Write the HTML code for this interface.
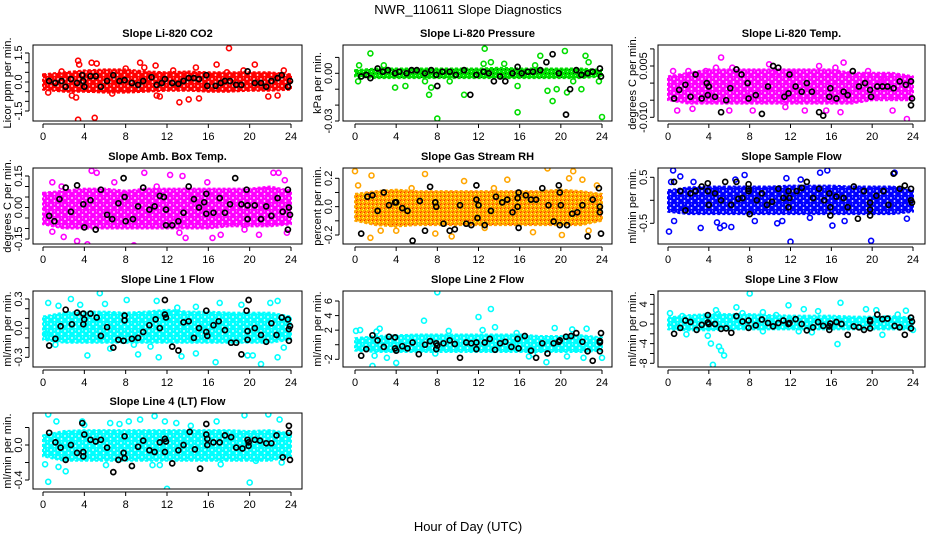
<!DOCTYPE html>
<html><head><meta charset="utf-8"><style>
html,body{margin:0;padding:0;background:#fff;}
svg{display:block;font-family:"Liberation Sans",Arial,sans-serif;}
</style></head><body>
<svg id="chart" width="936" height="540" viewBox="0 0 936 540" xmlns="http://www.w3.org/2000/svg">
<defs id="defs">
<pattern id="rhPat" width="4" height="4" patternUnits="userSpaceOnUse"><rect width="4" height="4" fill="#ffa500"/><rect x="0" y="0" width="1" height="1" fill="#ff2000"/><rect x="2" y="2" width="1" height="1" fill="#ffff00"/><rect x="1" y="3" width="1" height="1" fill="#ff5000"/><rect x="3" y="1" width="1" height="1" fill="#ffff60"/></pattern>
</defs>
<text x="468" y="14" text-anchor="middle" font-size="13">NWR_110611  Slope Diagnostics</text>
<text x="468" y="531" text-anchor="middle" font-size="13">Hour of Day (UTC)</text>
</svg>
<script>
const bandHours=[0,2,4,6,8,10,12,14,16,18,20,22,24];
const xTicks=[0,4,8,12,16,20,24];

const co2Lo=[-0.4,-0.5,-0.5,-0.55,-0.55,-0.5,-0.45,-0.45,-0.5,-0.5,-0.45,-0.45,-0.4];
const co2Hi=[0.4,0.5,0.6,0.65,0.65,0.55,0.5,0.55,0.5,0.5,0.5,0.5,0.4];
const co2Pts=[[3.4,1.1],[3.5,0.9],[3.4,-1.95],[5,-1.85],[18,1.75],[13.2,-1.05],[14.1,-0.9],[15.1,-0.85],[21.8,-0.75],[22.7,-0.7],[2.8,-0.7],[3.2,-0.8],[9.4,1.0],[4.7,1.0],[5.2,0.95],[10.9,0.85],[16.8,0.9],[20.5,0.9],[14.8,0.75],[0.5,-0.55],[6.7,-0.6],[11,-0.7],[11.3,-0.75],[8,0.7],[12.6,0.6],[17.8,0.5],[19.4,0.6],[23.3,0.6],[1.8,0.55],[9.8,0.75]];
const co2Blk=[[0.6,0.05],[1.2,-0.05],[1.8,0.05],[2.2,-0.25],[2.7,0.15],[3.3,-0.05],[3.8,0.35],[3.9,0.05],[4,-0.25],[4.6,0.3],[5.1,0.3],[5.6,-0.25],[6.2,0.05],[6.8,0.35],[7.4,0.05],[7.9,0.1],[8.6,-0.05],[9.2,-0.15],[9.7,0.05],[10.5,0.25],[11,-0.15],[11.5,-0.05],[11.8,0.15],[12.5,-0.05],[13.1,-0.1],[13.6,0.05],[14.1,0.2],[14.6,0.2],[15.1,0.15],[15.8,0.35],[15.9,-0.2],[16.7,-0.2],[17.2,-0.05],[17.6,0.05],[18.1,0.05],[18.7,-0.15],[19.2,-0.15],[19.8,0.55],[20.5,-0.05],[21.1,-0.05],[21.6,-0.25],[22.1,0.05],[22.7,0.2],[23.1,0.35],[23.7,-0.25],[23.9,0.05]];

const presLo=[-0.002,-0.003,-0.003,-0.003,-0.003,-0.003,-0.003,-0.003,-0.003,-0.003,-0.003,-0.003,-0.002];
const presHi=[0.002,0.003,0.003,0.003,0.003,0.003,0.003,0.0035,0.003,0.003,0.003,0.003,0.002];
const presPts=[[1.5,0.0125],[0.3,-0.005],[3.9,-0.009],[7.2,-0.0135],[7.4,-0.009],[8,-0.0285],[10.6,-0.0135],[12.6,0.0155],[13.2,0.007],[15.8,-0.0245],[15.8,-0.008],[18,0.011],[18.7,-0.011],[19.2,-0.0175],[20.4,0.014],[20.6,-0.012],[22.4,0.011],[22.7,0.007],[22,-0.01],[24,-0.0275],[23.7,-0.005],[4.9,-0.008],[6.8,-0.005],[9.2,-0.005],[12.5,0.006],[14.5,0.006],[17.5,0.005],[19.6,-0.01],[21.2,-0.005],[2.8,0.005],[0.4,0.005]];
const presBlk=[[0.6,-0.002],[1.1,-0.001],[1.5,-0.003],[2.2,0.003],[2.7,0.001],[3.2,0.002],[3.9,0],[4.3,0.001],[5,0],[5.5,0.002],[6,0.002],[6.8,0],[7.4,0.002],[7.9,-0.001],[8,-0.008],[8.5,0.001],[9.2,0.001],[9.8,-0.001],[10.6,0.002],[11.2,-0.0135],[11.8,-0.001],[12.5,0.001],[13,0],[13.5,-0.005],[14.1,-0.002],[14.6,-0.005],[15.3,0],[15.8,0.004],[16.2,0],[16.8,0.001],[17.3,0.001],[18,0.002],[18.6,0.007],[19.2,0.012],[19.8,0],[20.5,-0.026],[20.9,-0.01],[21.5,0.002],[22,-0.001],[22.6,0],[23.1,0.001],[23.8,0.003],[23.9,-0.002]];

const tempLo=[-0.005,-0.006,-0.006,-0.006,-0.006,-0.006,-0.006,-0.006,-0.006,-0.006,-0.005,-0.005,-0.005];
const tempHi=[0.002,0.003,0.004,0.004,0.004,0.004,0.004,0.004,0.004,0.003,0.003,0.003,0.002];
const tempPts=[[0.5,0.0035],[0.9,-0.008],[2,0.0035],[3.7,0.0035],[4.7,0.0045],[5.2,0.0075],[6.3,0.0045],[7.5,0.003],[9.9,0.0055],[12,0.003],[14.8,0.005],[16.4,0.0045],[17.2,0.006],[18.2,-0.0135],[19.6,0.0035],[23.4,-0.0105],[22,-0.008],[20.9,0.001],[10.3,0.003],[13.4,-0.008],[15.5,-0.008],[16.9,-0.0085],[8.3,-0.008],[2.4,-0.0075],[6,-0.008],[11.5,-0.007],[21.5,0.0005]];
const tempBlk=[[0.6,-0.0045],[1.1,-0.002],[1.7,-0.0005],[2.2,-0.004],[2.7,0.0025],[3.3,-0.0045],[3.8,0],[3.9,-0.0035],[4,-0.001],[4.6,-0.004],[5.2,-0.0085],[5.7,-0.005],[6.1,-0.0015],[6.7,0.004],[7.2,0.0025],[7.8,0],[7.9,-0.0045],[8.6,-0.0035],[9.2,-0.009],[9.8,-0.001],[10.3,0.005],[10.8,0.0045],[11.4,-0.004],[11.8,-0.003],[11.9,0.0025],[12.5,-0.001],[13.1,-0.0025],[13.6,0],[14.1,-0.0025],[14.8,-0.0085],[15.2,-0.0095],[15.8,-0.004],[15.9,-0.0015],[16.5,-0.0045],[17.2,-0.0025],[17.6,-0.0035],[18.1,0.0035],[18.7,-0.001],[19.3,0],[19.8,-0.002],[19.9,-0.004],[20.5,-0.001],[21,-0.001],[21.5,-0.001],[22.1,-0.0015],[22.7,0.0005],[23.3,-0.0005],[23.8,0.0005],[23.9,-0.0045],[23.8,-0.0065]];

const ambLo=[-0.08,-0.1,-0.1,-0.1,-0.1,-0.1,-0.1,-0.1,-0.1,-0.09,-0.09,-0.09,-0.08];
const ambHi=[0.07,0.08,0.09,0.09,0.08,0.09,0.09,0.09,0.09,0.09,0.09,0.1,0.08];
const ambPts=[[0.9,0.12],[0.9,-0.115],[2,-0.14],[3.3,-0.16],[4.3,-0.175],[4.7,0.175],[5.1,0.2],[5.2,0.165],[6.9,0.12],[8.8,-0.18],[9.8,0.165],[12.3,0.155],[13.5,0.15],[13.2,-0.12],[13.8,-0.145],[15.9,-0.195],[16.4,-0.145],[17.2,-0.13],[19.2,-0.2],[19.5,-0.105],[20.9,-0.13],[22.3,0.165],[22.8,0.165],[23.4,0.13],[23.6,-0.12],[11,0.1],[15.9,0.12],[1.8,0.1]];
const ambBlk=[[0.6,-0.04],[1.1,-0.065],[1.6,0.04],[2.2,0.095],[2.7,-0.02],[3.3,0.105],[3.9,0.015],[4,-0.095],[4.6,0.035],[5.1,-0.105],[5.6,0.085],[6.2,-0.035],[6.7,-0.055],[7.3,0.02],[7.8,0.14],[7.9,0.05],[8,-0.065],[8.7,-0.055],[9.2,0.005],[9.7,0.095],[10.3,-0.01],[10.8,0.005],[11.3,0.055],[11.7,0.05],[11.8,0.205],[11.9,-0.085],[11.9,-0.01],[12.5,-0.085],[13.1,-0.065],[13.6,-0.025],[14.1,0.1],[14.6,0.04],[15.1,0],[15.6,0.025],[15.8,-0.03],[15.8,0.065],[16.5,-0.025],[17.1,0.045],[17.6,-0.025],[18.1,0.015],[18.6,0.14],[19.2,0.015],[19.7,0.085],[19.8,0.01],[19.8,-0.055],[20.5,0.01],[21.1,-0.055],[21.6,0.005],[22.1,-0.04],[22.7,0.045],[23.2,-0.02],[23.7,0.085],[23.8,0],[23.9,-0.035],[23.7,-0.105]];

const rhLo=[-0.1,-0.13,-0.14,-0.13,-0.13,-0.13,-0.13,-0.13,-0.13,-0.13,-0.13,-0.13,-0.1];
const rhHi=[0.09,0.11,0.12,0.11,0.11,0.11,0.11,0.11,0.11,0.11,0.12,0.11,0.09];
const rhPts=[[0,0.25],[1.6,0.22],[1.5,-0.22],[2.5,-0.17],[6.8,0.23],[7.8,-0.19],[9.4,-0.21],[10.6,0.18],[14.8,0.19],[18.7,0.27],[20.8,0.2],[21.2,0.25],[20.1,-0.2],[22.1,0.19],[22.7,-0.17],[0.3,0.15],[4,-0.17],[5.5,0.13],[12.6,-0.15],[17.3,-0.18],[23.5,0.15],[13.5,0.13],[3.6,-0.12]];
const rhBlk=[[0.6,-0.19],[1.2,0.07],[1.7,0.08],[2.2,-0.03],[2.8,0.1],[3.3,0.01],[3.9,0.03],[4,0.03],[4.6,-0.01],[5.1,-0.03],[5.6,-0.24],[6.3,0.04],[6.8,-0.17],[7.3,0.14],[7.8,0.03],[7.9,0],[8.6,-0.12],[9.2,-0.17],[9.7,-0.16],[10.2,0.01],[10.8,-0.12],[11.3,-0.13],[11.8,0.05],[11.8,0.15],[11.9,-0.08],[12,0.01],[12.6,-0.13],[13.2,-0.03],[13.7,0.07],[14.3,0.03],[14.8,0.05],[15.3,-0.04],[15.8,0.06],[15.9,0.1],[15.9,-0.15],[15.8,0],[16.6,0.08],[17.1,0.05],[17.6,0.05],[18.2,0.13],[18.8,0.01],[19.3,-0.105],[19.8,0.15],[19.9,0.1],[19.9,-0.13],[20,0.01],[20.6,-0.13],[21.1,-0.05],[21.6,-0.04],[22.1,0.01],[22.6,-0.21],[23.1,0.05],[23.7,0.13],[23.8,0],[23.9,-0.19],[23.8,-0.04]];

const sfLo=[-0.25,-0.3,-0.3,-0.3,-0.3,-0.3,-0.3,-0.3,-0.3,-0.3,-0.3,-0.3,-0.25];
const sfHi=[0.22,0.28,0.3,0.3,0.3,0.3,0.32,0.32,0.32,0.3,0.3,0.3,0.22];
const sfPts=[[0.1,-0.68],[0.5,0.65],[0.3,0.4],[1.2,0.52],[3.2,-0.6],[5.1,-0.6],[5.5,-0.55],[6.2,-0.58],[7.5,0.55],[8.5,-0.45],[10.7,-0.5],[11.2,-0.45],[12,-0.9],[14.9,0.6],[15.6,0.65],[16.1,-0.55],[19.9,-0.88],[22.2,0.6],[23.4,-0.4],[17.3,-0.45],[0.6,-0.45],[4.8,-0.48],[11.6,0.48],[13,0.45],[13.9,-0.38],[6.6,0.45],[2.5,0.4]];
const sfBlk=[[0.6,0.4],[1.2,0.2],[1.7,-0.22],[2.2,0.15],[2.7,0.2],[3.3,0.3],[3.9,0.37],[3.9,0.2],[4,-0.1],[4.6,0.15],[5.2,0],[5.6,0.4],[6.2,-0.1],[6.7,0.4],[6.9,0.03],[7.3,0.05],[7.9,0.35],[7.9,0.2],[7.9,0.25],[8,-0.3],[8.7,0],[9.2,0.15],[9.7,-0.1],[10.2,-0.03],[10.8,0.25],[11.3,0.05],[11.8,0.2],[11.8,-0.15],[11.9,0.05],[12.6,0.2],[13.1,0.27],[13.6,0.4],[14.2,0.05],[14.8,0.25],[15.3,0],[15.8,0.15],[15.9,-0.15],[15.9,-0.33],[16.5,0.08],[17.2,0.05],[17.6,-0.15],[18.2,0.3],[18.6,-0.4],[19.2,0.2],[19.8,-0.05],[19.8,-0.2],[19.8,-0.33],[20.4,0.1],[21.1,0.2],[21.6,-0.1],[22.1,0.58],[22.7,0.25],[23.2,0.32],[23.8,0.25],[23.8,0],[23.9,-0.05]];

const l1Lo=[-0.12,-0.15,-0.15,-0.15,-0.15,-0.15,-0.15,-0.15,-0.15,-0.15,-0.15,-0.15,-0.12];
const l1Hi=[0.12,0.16,0.17,0.17,0.16,0.17,0.19,0.17,0.17,0.16,0.16,0.16,0.12];
const l1Pts=[[0.5,0.26],[1.5,0.23],[2.7,0.3],[4.3,-0.28],[5.5,0.36],[6,0.25],[8.1,0.29],[9.2,-0.27],[11,0.28],[11.2,-0.3],[13,0.21],[14.8,0.22],[16.7,-0.35],[17.1,0.26],[19.2,0.24],[19.8,-0.28],[21.1,-0.37],[22,0.26],[22.7,0.28],[22.7,-0.3],[3.6,0.24],[6.5,-0.21],[13.4,-0.29],[14.8,-0.26],[20.3,-0.28],[1.2,-0.17],[8.8,-0.17],[23.3,-0.2],[0.2,-0.06],[10.4,-0.19]];
const l1Blk=[[0.6,-0.18],[1.2,-0.11],[1.7,0.02],[2.2,0.19],[2.8,0.04],[3.3,0.16],[3.9,0.15],[3.9,0.04],[4,0.09],[4.6,0.15],[5.2,0.11],[5.6,-0.08],[6.2,0.01],[6.8,-0.2],[7.3,-0.12],[7.8,-0.13],[7.9,0.13],[7.9,0.08],[8.6,-0.11],[9.2,-0.1],[9.7,-0.04],[10.3,0.03],[10.9,0.09],[11.3,0],[11.8,0.29],[11.8,0.14],[11.9,0.11],[12.5,-0.19],[13.1,-0.23],[13.6,0.06],[14.1,0.07],[14.6,-0.1],[15.1,0],[15.8,0.18],[15.8,-0.04],[15.9,-0.08],[16.5,0.03],[17,0.07],[17.6,-0.02],[18.2,-0.15],[18.7,-0.15],[19.2,-0.27],[19.7,0.18],[19.8,-0.03],[19.8,-0.12],[19.9,0.29],[20.5,0],[21.1,-0.07],[21.6,-0.14],[22.1,0.05],[22.6,-0.07],[23.1,0.11],[23.7,0.09],[23.8,-0.01],[23.9,0.02],[23.8,-0.13]];

const l2Lo=[-0.8,-1,-1,-1,-1,-1,-1,-1,-1,-1,-1,-1,-0.8];
const l2Hi=[0.9,1.2,1.3,1.4,1.4,1.4,1.4,1.4,1.4,1.2,1.2,1.3,1];
const l2Pts=[[0.1,1.9],[0.5,2],[1.7,-2.9],[1.9,-1.5],[2.4,2.2],[3.1,-1.8],[4,-2.5],[6.7,3.3],[8,7.2],[12,3.8],[12.4,2],[13.2,4.9],[13.6,2.4],[17.3,-1.3],[18.6,-2.4],[19.4,2.3],[20.6,-1.6],[22.2,-1.8],[22.5,2.2],[24,-1.8],[7.8,-1.2],[9.1,1.9],[16.9,-1.6],[21.1,2.1],[2.1,1.8],[15.7,1.6],[0.6,-0.5]];
const l2Blk=[[0.6,-1.5],[1.1,-0.6],[1.7,1.3],[2.2,0.6],[2.8,-0.3],[3.3,1.1],[3.9,1],[3.9,-0.5],[4,-0.8],[4.6,-0.2],[5.1,-0.5],[5.6,0.3],[6.2,-1.3],[6.8,0],[7.3,0.5],[7.9,0.2],[7.9,-0.6],[8,-0.1],[8.6,0.2],[9.2,0.6],[9.7,0.1],[10.2,-1.8],[10.8,0.3],[11.3,0.2],[11.8,0.3],[11.8,-0.6],[12.6,0.3],[13.1,0.8],[13.6,-0.7],[14.1,0.2],[14.6,0.4],[15.2,-0.3],[15.8,0.8],[15.9,-0.5],[16.5,1.2],[17.1,-0.8],[17.6,-1.8],[18.2,0.2],[18.7,-1.2],[19.3,0.2],[19.8,0.4],[19.9,0.6],[20.5,1.1],[21,1.2],[21.5,1.6],[22.1,0.4],[22.6,-0.9],[23.1,-2.2],[23.8,0.5],[23.9,1.6],[23.8,-0.9],[23.8,0.3]];

const l3Lo=[-1.1,-1.3,-1.3,-1.1,-1.1,-1.1,-1.1,-1.1,-1.1,-1.1,-1.1,-1.1,-1.1];
const l3Hi=[1.3,1.8,2,2,2,1.8,1.7,1.7,1.7,1.5,1.5,1.6,1.3];
const l3Pts=[[0.2,2.2],[1.8,-2.1],[3.9,-2.4],[4.2,-4],[4.4,-8.3],[4.7,2.8],[4.9,2],[5,-4.6],[5.2,-5.4],[5.5,-6.4],[6.7,3.4],[8,6.2],[9.3,2.4],[11.8,3.8],[13.3,3],[12.8,-1.5],[14.1,-1.7],[14.7,2.6],[16.6,-4.1],[16.9,4.3],[19.4,3],[20.4,2.8],[21,-2.2],[23.3,2.7],[1.4,1.6],[7.3,2.2],[10.6,1.8],[22.5,1.9],[24,-1.2],[9.3,-1.5]];
const l3Blk=[[0.6,-2],[1.2,-0.8],[1.7,0.7],[2.2,0.4],[2.8,-1.2],[3.3,-0.2],[3.9,1.8],[3.9,0.3],[4,0],[4.6,0],[5.2,-1],[5.7,-0.9],[6.2,-1.8],[6.7,1.6],[7.3,0.5],[7.9,0.7],[7.9,-0.8],[8.6,-0.3],[9.2,0.9],[9.8,0.2],[10.3,-0.5],[10.8,0.2],[11.3,0.7],[11.8,0],[11.9,0.2],[12.5,1],[13.1,0],[13.6,-1.3],[14.2,-0.7],[14.7,0.4],[15.2,-0.4],[15.8,-1.2],[15.8,-0.5],[15.9,0.1],[16.5,0.4],[17,0],[17.6,-2.2],[18.2,-0.5],[18.7,-0.7],[19.2,-1.2],[19.8,0.8],[19.8,0.5],[19.8,-0.9],[20.5,1.9],[21,1],[21.5,1.1],[22.2,-0.4],[22.7,-0.7],[23.2,-2.2],[23.8,1.3],[23.8,-0.9],[23.9,0.5]];

const l4Lo=[-0.13,-0.18,-0.18,-0.18,-0.18,-0.18,-0.18,-0.18,-0.18,-0.18,-0.18,-0.18,-0.13];
const l4Hi=[0.11,0.16,0.17,0.17,0.17,0.17,0.17,0.17,0.17,0.17,0.16,0.17,0.13];
const l4Pts=[[0.2,-0.22],[0.5,0.35],[0.5,-0.42],[1.3,0.27],[2.2,-0.3],[3.8,0.27],[6.5,0.25],[7.4,0.24],[8.3,0.27],[9.4,0.29],[10.8,0.33],[11.3,-0.23],[11.8,0.27],[12,-0.5],[12.9,0.25],[16.8,0.27],[19.5,0.34],[20,-0.43],[21.8,0.35],[22.9,0.29],[1.5,-0.25],[6.1,-0.23],[10.6,-0.23],[17.2,-0.22],[20.6,-0.18],[23.1,-0.2],[4,0.23],[14.3,0.22]];
const l4Blk=[[0.6,0.14],[1.2,0.03],[1.7,-0.03],[2.2,-0.17],[2.7,0],[3.3,-0.09],[3.8,0.25],[3.9,-0.08],[3.9,-0.13],[4,0.12],[4.6,0.06],[5.1,0.04],[5.6,0.06],[6.2,-0.03],[6.8,-0.31],[7.3,-0.17],[7.8,-0.09],[7.9,0.1],[7.9,-0.15],[8.6,-0.24],[9.2,-0.02],[9.7,0.05],[10.3,-0.06],[10.8,-0.08],[11.3,0.03],[11.8,0.07],[11.8,-0.08],[11.9,0.04],[12.5,-0.21],[13.1,-0.06],[13.6,0],[14.2,0.15],[14.7,-0.05],[15.2,-0.27],[15.8,0.24],[15.8,0.12],[15.9,0.07],[15.9,0],[16.5,0.03],[17.1,0.03],[17.6,0.11],[18.2,0.09],[18.7,-0.03],[19.3,-0.04],[19.8,0.06],[19.9,0.03],[19.9,-0.01],[20.5,0.06],[21,0.05],[21.6,0.02],[22.1,0.02],[22.6,0.11],[23.2,-0.14],[23.8,0.22],[23.8,0.14],[23.9,-0.17]];

const co2Ticks=[-1.5,-1,-0.5,0,0.5,1,1.5], co2Labels=["-1.5","0.0","1.5"];
const presTicks=[-0.03,-0.02,-0.01,0,0.01], presLabels=["-0.03","0.00"];
const tempTicks=[-0.01,-0.005,0,0.005,0.01], tempLabels=["-0.010","0.005"];
const ambTicks=[-0.15,-0.1,-0.05,0,0.05,0.1,0.15], ambLabels=["-0.15","0.00","0.15"];
const rhTicks=[-0.2,-0.1,0,0.1,0.2], rhLabels=["-0.2","0.0","0.2"];
const sfTicks=[-0.5,0,0.5], sfLabels=["-0.5","0.5"];
const l1Ticks=[-0.3,-0.2,-0.1,0,0.1,0.2,0.3], l1Labels=["-0.3","0.0","0.3"];
const l2Ticks=[-2,0,2,4,6], l2Labels=["-2","2","4","6"];
const l3Ticks=[-8,-6,-4,-2,0,2,4,6], l3Labels=["-8","-4","0","4"];
const l4Ticks=[-0.4,-0.2,0,0.2], l4Labels=["-0.4","0.0"];

const NS="http://www.w3.org/2000/svg";
const svg=document.getElementById('chart');
const defs=document.getElementById('defs');
function mk(tag,attrs,parent){const e=document.createElementNS(NS,tag);for(const k in attrs)e.setAttribute(k,attrs[k]);(parent||svg).appendChild(e);return e;}

// speckled ring-texture patterns
function ringPattern(id,color){
  const p=mk('pattern',{id:id,width:7,height:7,patternUnits:'userSpaceOnUse'},defs);
  mk('rect',{width:7,height:7,fill:color},p);
  mk('circle',{cx:2,cy:2,r:0.9,fill:'#fff'},p);
  mk('circle',{cx:5.5,cy:5,r:0.9,fill:'#fff'},p);
  mk('circle',{cx:5.5,cy:1,r:0.5,fill:'#fff','fill-opacity':0.7},p);
  return 'url(#'+id+')';
}
function greenPattern(){
  const p=mk('pattern',{id:'grPat',width:4,height:4,patternUnits:'userSpaceOnUse'},defs);
  mk('rect',{width:4,height:4,fill:'#00e000'},p);
  mk('rect',{x:1,y:1,width:1,height:1,fill:'#006000'},p);
  mk('rect',{x:3,y:3,width:1,height:1,fill:'#80ff80'},p);
  return 'url(#grPat)';
}

const cols=[{l:33,r:302,x0:43,x24:291},{l:343,r:612,x0:355,x24:602},{l:658,r:925,x0:668,x24:913}];
const rowTops=[45,168,291,413];
const H=76;
const panels=[
 {name:'co2',title:'Slope Li-820 CO2',ylab:'Licor ppm per min.',c:0,r:0,a:[1.5,53],b:[-1.5,111],col:'#ff0000',band:ringPattern('redPat','#ff0000'),lo:co2Lo,hi:co2Hi,pts:co2Pts,blk:co2Blk,ticks:co2Ticks,labels:co2Labels},
 {name:'pressure',title:'Slope Li-820 Pressure',ylab:'kPa per min.',c:1,r:0,a:[0,73.3],b:[-0.03,121],col:'#00dd00',band:greenPattern(),lo:presLo,hi:presHi,pts:presPts,blk:presBlk,ticks:presTicks,labels:presLabels},
 {name:'temp',title:'Slope Li-820 Temp.',ylab:'degrees C per min.',c:2,r:0,a:[0.005,66],b:[-0.01,117.3],col:'#ff00ff',band:ringPattern('magPat1','#ff00ff'),lo:tempLo,hi:tempHi,pts:tempPts,blk:tempBlk,ticks:tempTicks,labels:tempLabels},
 {name:'amb-box-temp',title:'Slope Amb. Box Temp.',ylab:'degrees C per min.',c:0,r:1,a:[0.15,176],b:[-0.15,239],col:'#ff00ff',band:ringPattern('magPat2','#ff00ff'),lo:ambLo,hi:ambHi,pts:ambPts,blk:ambBlk,ticks:ambTicks,labels:ambLabels},
 {name:'gas-stream-rh',title:'Slope Gas Stream RH',ylab:'percent per min.',c:1,r:1,a:[0.2,178.3],b:[-0.2,235],col:'#ffa500',band:'url(#rhPat)',lo:rhLo,hi:rhHi,pts:rhPts,blk:rhBlk,ticks:rhTicks,labels:rhLabels},
 {name:'sample-flow',title:'Slope Sample Flow',ylab:'ml/min per min.',c:2,r:1,a:[0.5,177.3],b:[-0.5,223.3],col:'#0000ff',band:ringPattern('bluePat','#0000ff'),lo:sfLo,hi:sfHi,pts:sfPts,blk:sfBlk,ticks:sfTicks,labels:sfLabels},
 {name:'line1-flow',title:'Slope Line 1 Flow',ylab:'ml/min per min.',c:0,r:2,a:[0.3,299],b:[-0.3,357.3],col:'#00ffff',band:ringPattern('cyPat1','#00ffff'),lo:l1Lo,hi:l1Hi,pts:l1Pts,blk:l1Blk,ticks:l1Ticks,labels:l1Labels},
 {name:'line2-flow',title:'Slope Line 2 Flow',ylab:'ml/min per min.',c:1,r:2,a:[6,301],b:[-2,359.3],col:'#00ffff',band:ringPattern('cyPat2','#00ffff'),lo:l2Lo,hi:l2Hi,pts:l2Pts,blk:l2Blk,ticks:l2Ticks,labels:l2Labels},
 {name:'line3-flow',title:'Slope Line 3 Flow',ylab:'ml/min per min.',c:2,r:2,a:[4,304.3],b:[-8,363.3],col:'#00ffff',band:ringPattern('cyPat3','#00ffff'),lo:l3Lo,hi:l3Hi,pts:l3Pts,blk:l3Blk,ticks:l3Ticks,labels:l3Labels},
 {name:'line4-flow',title:'Slope Line 4 (LT) Flow',ylab:'ml/min per min.',c:0,r:3,a:[0,445],b:[-0.4,480],col:'#00ffff',band:ringPattern('cyPat4','#00ffff'),lo:l4Lo,hi:l4Hi,pts:l4Pts,blk:l4Blk,ticks:l4Ticks,labels:l4Labels}
];

panels.forEach(p=>{
  const col=cols[p.c], top=rowTops[p.r], bot=top+H;
  const xs=h=>col.x0+h*(col.x24-col.x0)/24;
  const k=(p.b[1]-p.a[1])/(p.b[0]-p.a[0]);
  const ys=v=>p.a[1]+(v-p.a[0])*k;
  const g=mk('g',{});
  
  
  const clip=mk('clipPath',{id:'clip-'+p.name},g);
  mk('rect',{x:col.l,y:top,width:col.r-col.l,height:H},clip);
  const plot=mk('g',{'clip-path':'url(#clip-'+p.name+')'},g);
  let d='';
  bandHours.forEach((h,i)=>{d+=(i?'L':'M')+xs(h).toFixed(1)+','+ys(p.hi[i]).toFixed(1);});
  for(let i=bandHours.length-1;i>=0;i--)d+='L'+xs(bandHours[i]).toFixed(1)+','+ys(p.lo[i]).toFixed(1);
  const band=mk('path',{d:d+'Z',fill:p.band,stroke:p.col,'stroke-width':2,'stroke-dasharray':'3 2','stroke-linejoin':'round'},plot);
  
  
  p.pts.forEach(pt=>{
    const c=mk('circle',{cx:xs(pt[0]).toFixed(1),cy:ys(pt[1]).toFixed(1),r:2.5,fill:'none',stroke:p.col,'stroke-width':1.6},plot);
    
    
  });
  p.blk.forEach(pt=>{
    const c=mk('circle',{cx:xs(pt[0]).toFixed(1),cy:ys(pt[1]).toFixed(1),r:2.5,fill:'none',stroke:'#000','stroke-width':1.7},plot);
    
    
  });
  mk('rect',{x:col.l,y:top,width:col.r-col.l,height:H,fill:'none',stroke:'#000','stroke-width':1},g);
  const t=mk('text',{x:(col.l+col.r)/2,y:top-8,'text-anchor':'middle','font-size':11,'font-weight':'bold'},g);
  t.textContent=p.title;
  
  
  const ay=bot+3;
  mk('line',{x1:xs(0),x2:xs(24),y1:ay,y2:ay,stroke:'#000'},g);
  xTicks.forEach(h=>{
    mk('line',{x1:xs(h),x2:xs(h),y1:ay,y2:ay+4,stroke:'#000'},g);
    const tl=mk('text',{x:xs(h),y:ay+16,'text-anchor':'middle','font-size':11},g);
    tl.textContent=String(h);
    
    
  });
  const ax=col.l-4;
  const tv=p.ticks;
  mk('line',{x1:ax,x2:ax,y1:ys(Math.min(...tv)),y2:ys(Math.max(...tv)),stroke:'#000'},g);
  tv.forEach(v=>{mk('line',{x1:ax,x2:ax-4,y1:ys(v),y2:ys(v),stroke:'#000'},g);});
  p.labels.forEach(s=>{
    const v=parseFloat(s), y=ys(v);
    const tl=mk('text',{x:ax-7,y:y,'text-anchor':'middle','font-size':11,transform:'rotate(-90 '+(ax-7)+' '+y+')'},g);
    tl.textContent=s;
    
    
  });
  const yc=(top+bot)/2, yx=col.l-22;
  const yl=mk('text',{x:yx,y:yc,'text-anchor':'middle','font-size':11,transform:'rotate(-90 '+yx+' '+yc+')'},g);
  yl.textContent=p.ylab;
  
  
});
</script>
</body></html>
